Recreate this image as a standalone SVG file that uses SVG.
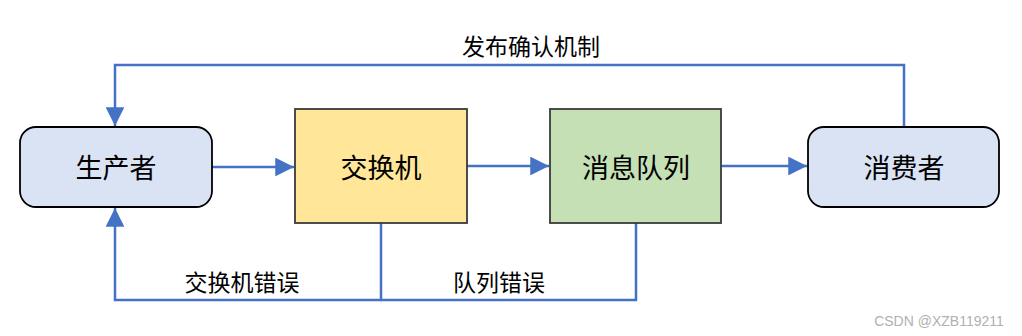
<svg xmlns="http://www.w3.org/2000/svg" width="1022" height="336" viewBox="0 0 1022 336">
<style>
.node-r{fill:#DAE3F3;stroke:#000;stroke-width:1.8}
.node-s{stroke:#3a3a3a;stroke-width:1.8}
.t{font-family:"Noto Sans CJK SC","Noto Sans",sans-serif;fill:#000;text-anchor:middle;dominant-baseline:central}
.big{font-size:27px}
.lbl{font-size:23px}
.c{fill:none;stroke:#4472C4;stroke-width:2.5}
</style>
<defs>
<marker id="ah" viewBox="0 0 10 10" refX="10" refY="5" markerWidth="7.5" markerHeight="7.5" markerUnits="strokeWidth" orient="auto">
<path d="M0,0 L10,5 L0,10 z" fill="#4472C4"/>
</marker>
</defs>
<rect width="1022" height="336" fill="#fff"/>
<g id="connectors">
<path class="c" d="M212,167 H294" marker-end="url(#ah)"/>
<path class="c" d="M467,166 H549" marker-end="url(#ah)"/>
<path class="c" d="M721,166 H807" marker-end="url(#ah)"/>
<path class="c" d="M904,127 V65 H115 V126" marker-end="url(#ah)"/>
<path class="c" d="M381,223 V300 H115 V208" marker-end="url(#ah)"/>
<path class="c" d="M636,223 V300 H381"/>
<text class="t lbl" x="531" y="45">发布确认机制</text>
<text class="t lbl" x="242" y="281">交换机错误</text>
<text class="t lbl" x="499" y="281">队列错误</text>
</g>
<g id="producer">
<rect class="node-r" x="20" y="127" width="192" height="80" rx="16"/>
<text class="t big" x="116" y="166">生产者</text>
</g>
<g id="exchange">
<rect class="node-s" fill="#FFE699" x="295" y="109" width="172" height="114"/>
<text class="t big" x="381" y="166">交换机</text>
</g>
<g id="queue">
<rect class="node-s" fill="#C5E0B4" x="550" y="109" width="171" height="114"/>
<text class="t big" x="636" y="166">消息队列</text>
</g>
<g id="consumer">
<rect class="node-r" x="808" y="127" width="191" height="80" rx="16"/>
<text class="t big" x="904" y="166">消费者</text>
</g>
<text x="939" y="321" font-family="Liberation Sans,Arial,sans-serif" font-size="14" fill="#b0b0b0" text-anchor="middle" dominant-baseline="central">CSDN @XZB119211</text>
</svg>
